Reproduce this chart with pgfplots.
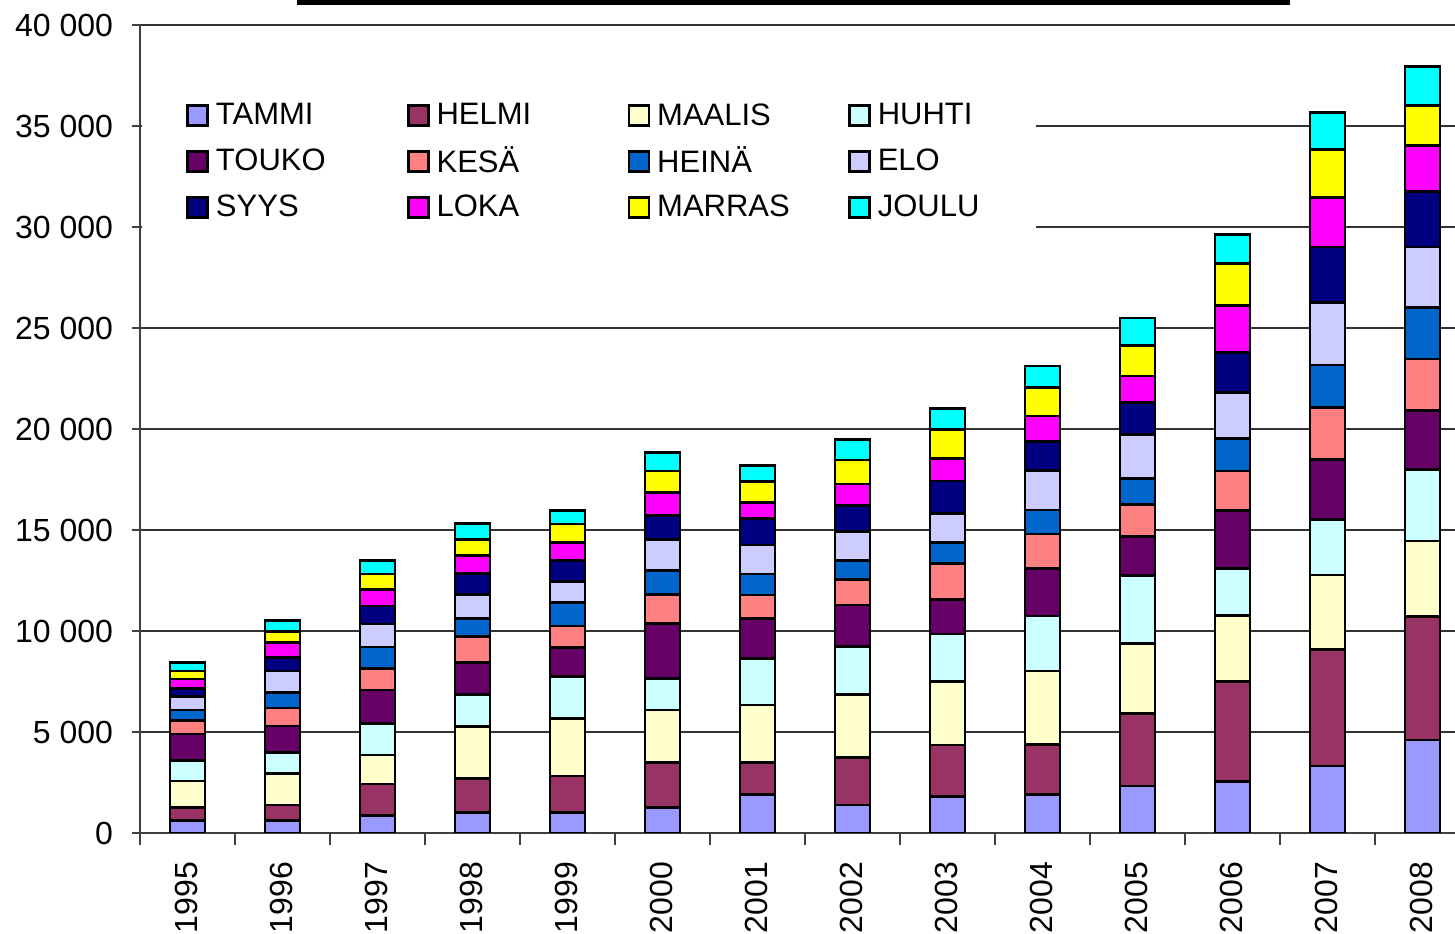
\documentclass[border=0pt]{standalone}
\usepackage{fontspec}
\setmainfont{Liberation Sans}
\usepackage{pgfplots}
\usepackage{pgfplotstable}
\pgfplotsset{compat=1.18}
\definecolor{cTammi}{HTML}{9999FF}
\definecolor{cHelmi}{HTML}{993366}
\definecolor{cMaalis}{HTML}{FFFFCC}
\definecolor{cHuhti}{HTML}{CCFFFF}
\definecolor{cTouko}{HTML}{660066}
\definecolor{cKesa}{HTML}{FF8080}
\definecolor{cHeina}{HTML}{0066CC}
\definecolor{cElo}{HTML}{CCCCFF}
\definecolor{cSyys}{HTML}{000080}
\definecolor{cLoka}{HTML}{FF00FF}
\definecolor{cMarras}{HTML}{FFFF00}
\definecolor{cJoulu}{HTML}{00FFFF}
\pgfplotstableread{
x year m1 m2 m3 m4 m5 m6 m7 m8 m9 m10 m11 m12
0 1995 609 663 1302 1005 1322 658 530 659 396 480 396 411
1 1996 609 777 1569 1040 1302 891 777 1055 678 723 544 545
2 1997 876 1550 1435 1570 1648 1074 1055 1139 891 826 758 678
3 1998 1005 1703 2574 1584 1565 1287 911 1168 1059 892 792 792
4 1999 1005 1817 2856 2060 1455 1055 1153 1059 1020 911 906 658
5 2000 1252 2228 2609 1569 2723 1436 1168 1555 1168 1158 1055 926
6 2001 1916 1564 2857 2312 1980 1153 1040 1435 1322 792 1020 812
7 2002 1386 2361 3119 2357 2064 1272 921 1436 1307 1054 1188 1025
8 2003 1797 2559 3134 2361 1718 1782 1040 1436 1599 1123 1436 1040
9 2004 1916 2475 3629 2723 2361 1698 1188 1946 1435 1273 1401 1074
10 2005 2327 3599 3445 3367 1955 1564 1273 2193 1584 1312 1525 1351
11 2006 2559 4931 3287 2312 2876 1956 1604 2272 1995 2307 2094 1431
12 2007 3312 5772 3683 2738 2985 2584 2089 3109 2738 2465 2362 1816
13 2008 4604 6099 3752 3535 2936 2539 2535 3010 2738 2287 1990 1916
}\data
\newcommand{\fs}{\fontsize{15.5}{18}\selectfont}
\newcommand{\fst}{\fontsize{16}{19}\selectfont}
\begin{document}
\begin{tikzpicture}
\begin{axis}[name=ax, scale only axis, width=657.5pt, height=404pt,
  xmin=-0.5, xmax=13.342, ymin=0, ymax=40000,
  ybar stacked, bar width=17.5pt,
  axis x line*=bottom, axis y line*=left,
  axis line style={black!75, line width=1pt, -},
  ymajorgrids, grid style={black!80, line width=0.6pt},
  ytick={0,5000,...,40000},
  scaled y ticks=false,
  /pgf/number format/.cd, 1000 sep={\ }, assume math mode=true, /pgfplots/.cd,
  xtick={0,...,13},
  xticklabels={1995,1996,1997,1998,1999,2000,2001,2002,2003,2004,2005,2006,2007,2008},
  minor xtick={-0.5,0.5,...,12.5},
  tick align=outside,
  major tick length=4pt, minor tick length=6pt,
  major x tick style={draw=none},
  tick style={black!75, line width=0.8pt},
  tick label style={font=\fst},
  xticklabel style={rotate=90, anchor=east, xshift=-7pt, yshift=0.5pt},
  yticklabel style={xshift=-6pt},
  legend columns=4,
  legend cell align=left,
  legend image code/.code={\draw[#1, draw=black, line width=1.3pt] (0pt,-5pt) rectangle (10pt,5pt);},
  legend style={at={(rel axis cs:0,1)}, anchor=north west, xshift=1pt, yshift=-28pt,
    draw=none, fill=white, font=\fs, inner xsep=22pt, inner ysep=9pt, row sep=5.5pt,
    /tikz/every odd column/.append style={column sep=1.5pt},
    /tikz/every even column/.append style={column sep=0pt},
    /tikz/column 2/.append style={text width=93.5pt},
    /tikz/column 4/.append style={text width=93.5pt},
    /tikz/column 6/.append style={text width=93.5pt},
    /tikz/column 8/.append style={text width=55pt}},
  every axis plot/.append style={draw=black, line width=1.4pt},
]
\addplot[fill=cTammi] table[x=x,y=m1]{\data};
\addplot[fill=cHelmi] table[x=x,y=m2]{\data};
\addplot[fill=cMaalis] table[x=x,y=m3]{\data};
\addplot[fill=cHuhti] table[x=x,y=m4]{\data};
\addplot[fill=cTouko] table[x=x,y=m5]{\data};
\addplot[fill=cKesa] table[x=x,y=m6]{\data};
\addplot[fill=cHeina] table[x=x,y=m7]{\data};
\addplot[fill=cElo] table[x=x,y=m8]{\data};
\addplot[fill=cSyys] table[x=x,y=m9]{\data};
\addplot[fill=cLoka] table[x=x,y=m10]{\data};
\addplot[fill=cMarras] table[x=x,y=m11]{\data};
\addplot[fill=cJoulu] table[x=x,y=m12]{\data};
\legend{TAMMI,HELMI,MAALIS,HUHTI,TOUKO,KESÄ,HEINÄ,ELO,SYYS,LOKA,MARRAS,JOULU}
\end{axis}
\fill[black] ([xshift=78.5pt,yshift=10pt]ax.north west) rectangle ([xshift=575pt,yshift=12.5pt]ax.north west);
\pgfresetboundingbox
\path[use as bounding box] ([xshift=-70pt,yshift=-50.5pt]ax.south west) rectangle ([yshift=12.5pt]ax.north east);
\end{tikzpicture}
\end{document}
